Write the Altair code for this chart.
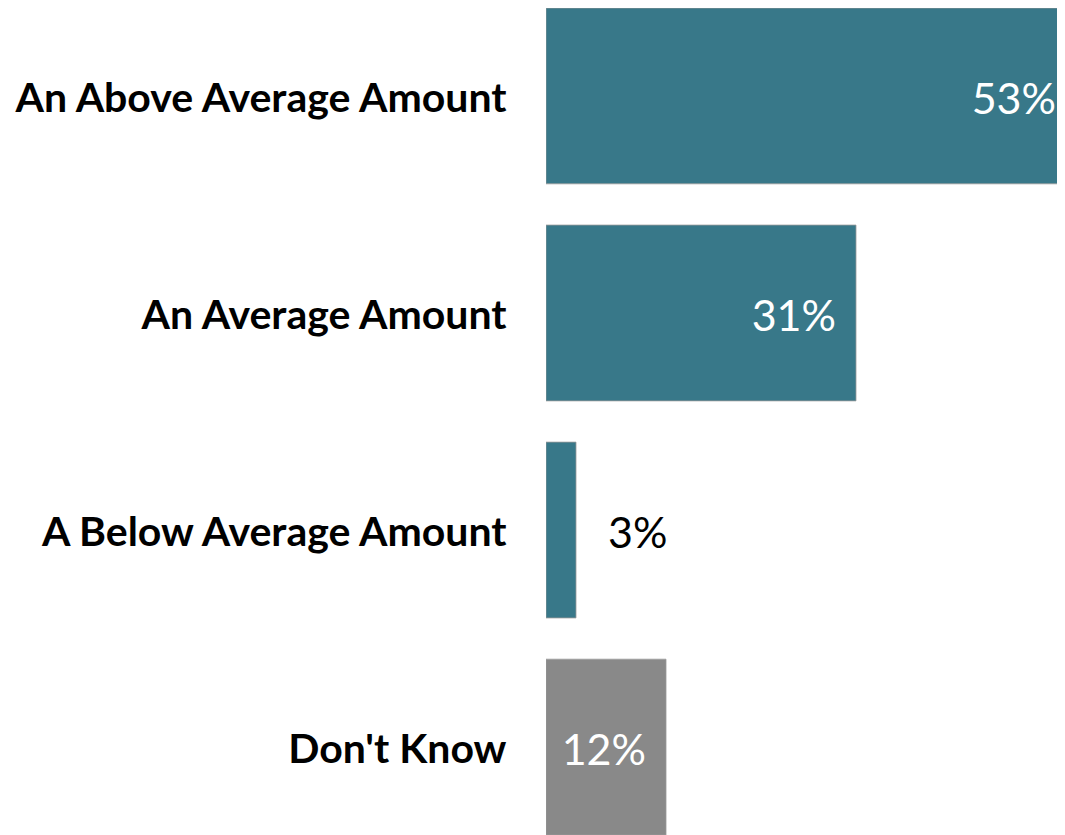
import altair as alt
import pandas as pd

categories = ["An Above Average Amount", "An Average Amount", "A Below Average Amount", "Don't Know"]
values = [53, 31, 3, 12]
colors = ["#387889", "#387889", "#387889", "#898989"]
inside = [True, True, False, True]

df = pd.DataFrame({
    "cat": categories,
    "val": values,
    "color": colors,
    "inside": inside,
    "label": [f"{v}%" for v in values],
})

y = alt.Y("cat:N", sort=categories, title=None,
          scale=alt.Scale(paddingInner=0.19, paddingOuter=0),
          axis=alt.Axis(labelFont="Lato", labelFontWeight="bold", labelFontSize=41,
                        labelColor="black", labelPadding=40, ticks=False, domain=False,
                        labelOffset=4, labelLimit=600, minExtent=538, maxExtent=538))
x = alt.X("val:Q", title=None, axis=None,
          scale=alt.Scale(domain=[0, 51.1], nice=False, zero=True))

base = alt.Chart(df).encode(y=y, x=x)

bars = base.mark_bar(clip=True, stroke="#9a9a9a", strokeWidth=0.8).encode(
    color=alt.Color("color:N", scale=None))

txt_in = base.transform_filter("datum.inside").mark_text(
    align="right", baseline="middle", dx=-20, dy=5, font="Lato", fontSize=43,
    color="white").encode(text="label:N")

txt_out = base.transform_filter("!datum.inside").mark_text(
    align="left", baseline="middle", dx=32, dy=5, font="Lato", fontSize=43,
    color="black").encode(text="label:N")

chart = (bars + txt_in + txt_out).properties(
    width=511, height=827, padding=0
).configure_view(stroke=None)

chart.save("out.html", embed_options={"renderer": "svg", "actions": False})
